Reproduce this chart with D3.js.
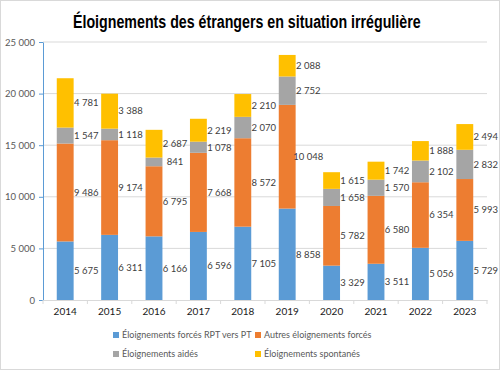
<!DOCTYPE html>
<html lang="fr">
<head>
<meta charset="UTF-8"/>
<title>Éloignements des étrangers en situation irrégulière</title>
<script src="https://d3js.org/d3.v7.min.js"></script>
<style>
  body { margin: 0; background: #fff; }
  text { font-family: Lato, "Noto Sans", sans-serif; }
</style>
</head>
<body>
<svg id="chart"></svg>
<script>
// data
const years = ["2014", "2015", "2016", "2017", "2018", "2019", "2020", "2021", "2022", "2023"];
const forcesRPT = [5675, 6311, 6166, 6596, 7105, 8858, 3329, 3511, 5056, 5729];
const autresForces = [9486, 9174, 6795, 7668, 8572, 10048, 5782, 6580, 6354, 5993];
const aides = [1547, 1118, 841, 1078, 2070, 2752, 1658, 1570, 2102, 2832];
const spontanes = [4781, 3388, 2687, 2219, 2210, 2088, 1615, 1742, 1888, 2494];
const seriesNames = ["Éloignements forcés RPT vers PT", "Autres éloignements forcés",
                     "Éloignements aidés", "Éloignements spontanés"];
const yTicks = [0, 5000, 10000, 15000, 20000, 25000];

const colors = ["#5B9BD5", "#ED7D31", "#A5A5A5", "#FFC000"];
const width = 500, height = 370;
const margin = {top: 42, right: 13, bottom: 70, left: 43};

const svg = d3.select("#chart").attr("width", width).attr("height", height);

svg.append("rect")
  .attr("x", 0.5).attr("y", 0.5)
  .attr("width", width - 1).attr("height", height - 1)
  .attr("fill", "#fff").attr("stroke", "#d9d9d9");

// build the table for d3.stack
const table = years.map((y, i) => ({
  year: y, s0: forcesRPT[i], s1: autresForces[i], s2: aides[i], s3: spontanes[i]
}));
const stacked = d3.stack().keys(["s0", "s1", "s2", "s3"])(table);

const x = d3.scaleBand().domain(years)
  .range([margin.left, width - margin.right]).paddingInner(0.62).paddingOuter(0.31);
const y = d3.scaleLinear().domain([0, 25000])
  .range([height - margin.bottom, margin.top]);

const fmt = v => d3.format(",")(v).replace(/,/g, " ");

// gridlines
svg.append("g").selectAll("line").data(yTicks.slice(1)).join("line")
  .attr("x1", margin.left).attr("x2", width - margin.right)
  .attr("y1", d => y(d)).attr("y2", d => y(d))
  .attr("stroke", "#d9d9d9").attr("stroke-width", 1);

// y axis
const yAxis = svg.append("g")
  .attr("transform", `translate(${margin.left},0)`)
  .call(d3.axisLeft(y).tickValues(yTicks).tickFormat(fmt).tickSize(4).tickSizeOuter(0));
yAxis.select(".domain").attr("stroke", "#5B9BD5");
yAxis.selectAll(".tick line").attr("stroke", "#5B9BD5");
yAxis.selectAll("text").attr("fill", "#595959").style("font-size", "9.5px")
  .style("font-family", "Lato, sans-serif").attr("x", -8);

// bars
svg.append("g").selectAll("g").data(stacked).join("g")
  .attr("fill", (d, i) => colors[i])
  .selectAll("rect").data(d => d).join("rect")
  .attr("x", d => x(d.data.year))
  .attr("width", x.bandwidth())
  .attr("y", d => y(d[1]))
  .attr("height", d => y(d[0]) - y(d[1]));

// value labels
svg.append("g").selectAll("g").data(stacked).join("g")
  .selectAll("text").data(d => d.map(p => ({p: p, v: p[1] - p[0]}))).join("text")
  .attr("x", d => x(d.p.data.year) + x.bandwidth() / 2 + 21)
  .attr("y", d => y((d.p[0] + d.p[1]) / 2))
  .attr("dy", "0.35em")
  .attr("text-anchor", "middle")
  .attr("fill", "#404040")
  .style("font-size", "9.5px")
  .text(d => fmt(d.v));

// x axis
const xAxis = svg.append("g")
  .attr("transform", `translate(0,${height - margin.bottom})`)
  .call(d3.axisBottom(x).tickSize(0).tickSizeOuter(0));
xAxis.select(".domain").attr("stroke", "#d9d9d9");
xAxis.selectAll("text").attr("fill", "#1a1a1a").attr("dy", "1.15em")
  .style("font-size", "10px").style("font-family", "Lato, sans-serif");
// small ticks between categories
const step = x.step();
xAxis.append("g").selectAll("line").data(d3.range(years.length + 1)).join("line")
  .attr("x1", i => margin.left + i * step).attr("x2", i => margin.left + i * step)
  .attr("y1", 0).attr("y2", 4).attr("stroke", "#d9d9d9");

// title, squeezed horizontally to match the narrow face of the original
const titleG = svg.append("g");
const title = titleG.append("text")
  .attr("x", 0).attr("y", 0)
  .style("font-family", "'Liberation Sans', Arial, sans-serif")
  .style("font-weight", "bold").style("font-size", "19px")
  .attr("fill", "#000")
  .text("Éloignements des étrangers en situation irrégulière");
const natural = title.node().getComputedTextLength();
titleG.attr("transform", `translate(73,28) scale(${348 / natural},1)`);

// legend
const legendPos = [[113, 335], [255, 335], [113, 354], [255, 354]];
const legend = svg.append("g").selectAll("g").data(seriesNames).join("g")
  .attr("transform", (d, i) => `translate(${legendPos[i][0]},${legendPos[i][1]})`);
legend.append("rect").attr("x", 0).attr("y", -3).attr("width", 6).attr("height", 6)
  .attr("fill", (d, i) => colors[i]);
legend.append("text").attr("x", 9).attr("dy", "0.35em")
  .attr("fill", "#595959").style("font-size", "9px")
  .text(d => d);
</script>
</body>
</html>
